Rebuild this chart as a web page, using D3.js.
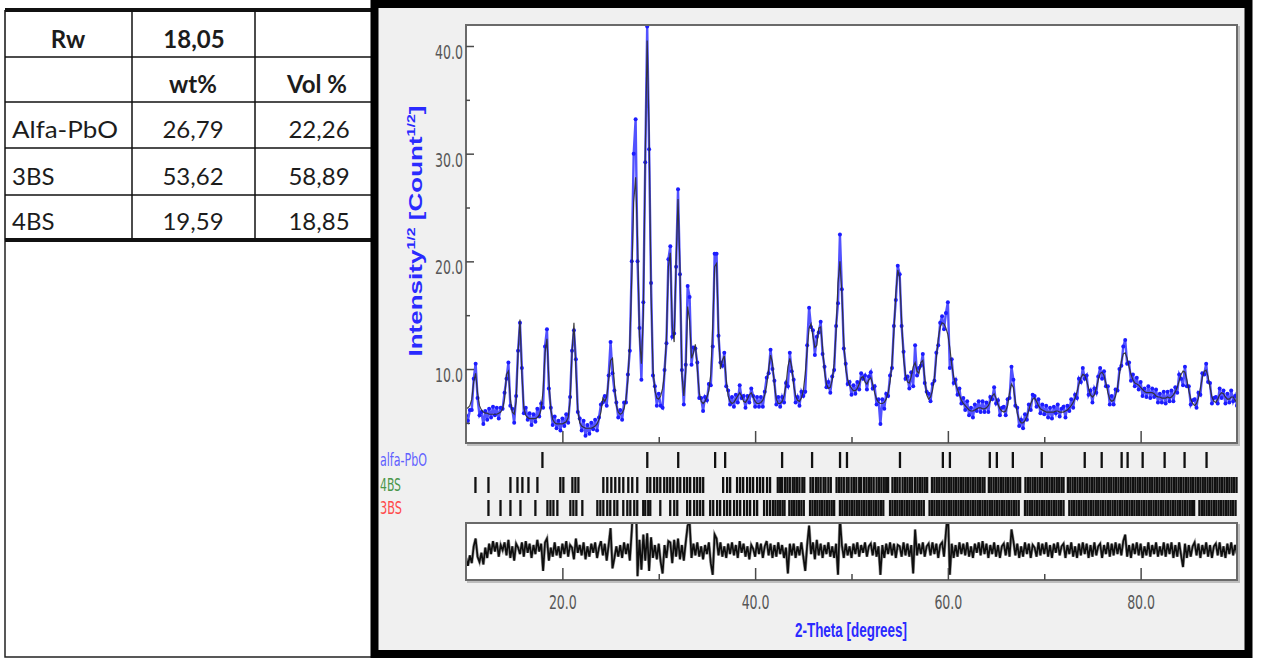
<!DOCTYPE html>
<html>
<head>
<meta charset="utf-8">
<script src="https://cdn.jsdelivr.net/npm/d3@7"></script>
<style>
  body { margin: 0; background: #fff; }
  svg { display: block; }
</style>
</head>
<body>
<div id="chart"></div>
<script>
// ---- refinement table ----
const rw = 18.05;
const phases = ['Alfa-PbO', '3BS', '4BS'];
const wtPct = [26.79, 53.62, 19.59];
const volPct = [22.26, 58.89, 18.85];

// ---- powder pattern, 2-theta grid from 10 to 90 in 0.2 deg steps ----
const thetaStart = 10;
const thetaStep = 0.2;
// calculated profile, sqrt(counts)
const calc = [
  6.3,6.4,6.6,7.2,8.8,9.6,7.8,6.6,6.2,6.0,
  5.9,5.9,5.8,5.8,5.8,5.8,5.8,5.9,6.0,6.3,
  7.2,9.5,9.8,7.2,6.0,5.8,7.0,11.5,14.6,9.5,
  6.4,5.7,5.5,5.4,5.4,5.4,5.4,5.5,5.7,6.3,
  8.0,11.5,12.8,9.0,6.2,5.3,5.0,4.9,4.9,4.9,
  4.9,5.0,5.1,5.5,7.0,11.5,14.3,10.0,6.2,5.0,
  4.7,4.6,4.5,4.5,4.5,4.5,4.6,4.7,4.9,5.3,
  6.0,7.3,7.0,7.4,9.0,10.8,11.0,8.6,6.6,6.0,
  5.8,5.9,6.3,7.2,9.0,12.5,18.5,25.5,27.8,22.0,
  13.0,10.5,15.0,30.0,40.5,32.0,17.0,10.0,8.0,7.3,
  7.2,7.5,8.2,9.5,13.0,19.5,20.8,14.0,12.5,20.0,
  25.8,19.5,9.5,7.5,9.8,15.8,14.5,11.0,11.5,12.3,
  10.0,7.8,7.0,6.8,7.0,7.4,8.0,9.5,14.0,19.5,
  19.8,13.5,10.0,10.8,11.2,9.0,7.5,7.0,6.8,6.9,
  7.2,7.5,7.8,7.5,7.0,6.9,7.2,7.6,7.8,7.4,
  7.0,6.8,6.8,6.9,7.1,7.6,8.5,10.0,11.3,10.6,
  8.5,7.2,6.8,6.8,7.0,7.5,8.5,10.2,11.0,10.2,
  8.5,7.5,7.1,7.0,7.3,8.0,9.5,11.8,13.8,14.2,
  13.0,12.0,12.2,13.8,13.9,12.0,9.8,8.6,8.2,8.3,
  9.0,10.5,13.5,18.0,20.0,17.0,12.5,10.0,9.0,8.5,
  8.2,8.0,8.0,8.2,8.6,9.2,9.3,8.8,8.6,9.0,
  9.2,8.6,7.8,7.2,6.9,6.8,6.8,6.9,7.2,7.8,
  8.8,10.5,13.5,17.0,19.2,18.5,14.5,11.0,9.5,8.8,
  8.7,9.3,10.2,10.6,9.8,9.6,10.6,10.8,9.2,7.6,
  7.2,7.4,8.0,9.2,11.0,12.8,13.9,14.3,14.2,13.8,
  13.2,12.0,10.4,9.3,8.6,8.1,7.6,7.1,6.8,6.6,
  6.4,6.2,6.1,6.1,6.2,6.3,6.4,6.4,6.3,6.3,
  6.4,6.6,7.0,7.5,7.7,7.3,6.7,6.3,6.1,6.0,
  6.1,6.6,7.8,8.6,8.3,7.0,5.9,5.3,5.0,5.0,
  5.2,5.6,6.2,6.8,7.2,7.3,7.0,6.6,6.3,6.2,
  6.1,6.0,6.0,6.0,6.0,6.0,6.1,6.1,6.0,6.0,
  6.0,6.1,6.2,6.4,6.6,6.9,7.3,7.9,8.6,9.2,
  9.5,9.4,8.9,8.2,7.6,7.4,7.6,8.2,9.0,9.6,
  9.7,9.4,8.7,7.8,7.2,7.0,7.1,7.5,8.3,9.5,
  10.7,11.4,11.5,11.0,10.2,9.5,9.0,8.7,8.6,8.5,
  8.3,8.1,7.9,7.8,7.8,7.8,7.8,7.7,7.5,7.4,
  7.4,7.3,7.3,7.3,7.4,7.3,7.4,7.6,7.9,8.3,
  8.9,9.5,9.8,9.7,9.0,8.0,7.2,6.8,6.6,6.8,
  7.3,8.2,9.2,9.8,9.9,9.3,8.3,7.4,7.0,6.9,
  7.2,7.6,7.8,7.7,7.4,7.2,7.2,7.4,7.4,7.1,
  6.9
];
// difference observed - calculated (lower panel)
const diff = [
  -0.6,-1.2,-0.4,-1.0,0.3,0.9,-0.5,-0.9,-0.2,-1.1,
  0.2,-0.6,0.5,-0.3,0.7,-0.1,0.6,-0.5,0.4,0.0,
  0.6,-0.4,0.8,-0.6,0.3,-0.8,0.5,0.2,-0.3,0.6,
  -0.5,0.7,-0.2,0.5,-0.6,0.4,-0.3,0.8,-0.1,0.5,
  -1.6,0.6,0.9,-0.8,0.2,-0.5,0.6,-0.4,0.3,-0.6,
  0.5,-0.3,0.7,-0.5,0.4,0.2,-0.7,0.9,-0.2,0.4,
  -0.4,0.6,-0.7,0.3,-0.5,0.5,-0.2,0.6,-0.6,0.2,
  0.7,-0.4,0.5,-0.8,0.4,1.7,-1.4,-0.6,0.3,-0.5,
  0.4,-0.6,0.6,-0.3,0.5,-0.8,1.5,4.5,5.4,-2.0,
  0.8,-1.5,1.2,-0.8,1.3,-1.6,1.0,-0.6,0.4,-0.7,
  0.5,-0.9,-1.8,0.4,-0.6,0.7,0.6,-1.0,0.8,-0.5,
  0.9,-0.7,0.4,-0.8,0.6,1.9,2.2,-0.6,0.5,-0.4,
  0.6,-0.5,0.3,-0.7,0.4,-0.3,0.6,-1.0,-1.9,1.2,
  0.9,-0.4,0.6,-0.5,0.3,-0.6,0.5,-0.3,0.6,-0.4,
  0.4,-0.6,0.7,-0.2,0.5,-0.5,0.3,-0.7,0.4,0.1,
  -0.5,0.6,-0.3,0.5,-0.6,0.3,0.7,-0.4,0.5,-0.6,
  0.4,-0.5,0.6,-0.3,0.4,-0.6,0.2,-1.8,0.5,-0.4,
  0.5,-0.6,0.3,-0.4,0.6,-0.5,-1.6,0.4,1.9,-0.3,
  0.6,-0.7,0.8,-0.4,0.5,-0.6,0.4,-0.3,0.6,-0.5,
  0.3,-0.6,0.5,-1.9,2.5,0.4,-0.6,0.5,-0.4,0.3,
  -0.6,0.5,-0.3,0.6,-0.5,0.4,-0.2,0.6,-0.5,0.3,
  0.5,-0.4,0.6,-0.5,0.3,-1.9,0.4,-0.6,0.5,-0.3,
  0.6,-0.4,0.5,-0.6,0.4,0.3,-0.5,0.6,-0.4,0.5,
  -0.5,0.4,-1.8,1.6,-0.4,0.5,-0.3,0.6,-0.5,0.3,
  0.5,-0.4,0.6,-0.3,0.5,-0.6,0.4,0.6,-0.5,1.4,
  3.0,-1.9,0.5,-0.6,0.4,-0.5,0.6,-0.3,0.5,-0.4,
  0.6,-0.5,0.3,-0.6,0.5,-0.2,0.6,-0.4,0.7,-0.3,
  0.5,-0.6,0.4,-0.3,0.6,-0.5,0.4,-0.6,0.3,0.5,
  -0.4,0.6,-0.5,1.6,0.7,-0.4,0.5,-0.6,0.3,-0.5,
  0.6,-0.3,0.5,-0.6,0.4,0.2,-0.5,0.6,-0.4,0.5,
  -0.3,0.6,-0.5,0.4,-0.6,0.5,-0.2,0.6,-0.4,0.3,
  0.5,-0.6,0.4,-0.3,0.6,-0.5,0.3,-0.6,0.5,-0.4,
  0.6,-0.3,0.5,-0.6,0.4,-0.5,0.6,-0.4,0.3,0.5,
  -0.6,0.4,-0.3,0.6,-0.5,0.5,-0.4,0.6,-0.3,0.5,
  -0.4,0.7,1.2,-0.5,0.4,-0.6,0.5,-0.3,0.6,-0.4,
  0.5,-0.6,0.3,-0.4,0.6,-0.5,0.4,-0.3,0.6,-0.5,
  0.3,-0.4,0.6,-0.5,0.5,-0.3,0.6,-0.6,0.4,-0.5,
  0.6,-0.4,-1.3,0.5,-0.6,0.4,-0.5,0.3,0.6,-0.4,
  0.5,-0.6,0.4,-0.3,0.6,-0.5,0.4,-0.6,0.3,0.5,
  -0.4,0.6,-0.5,0.3,-0.6,0.5,-0.3,0.6,-0.4,0.4,
  -0.3
];

// ---- Bragg reflection positions (2-theta) ----
const alfaPbO = [17.93, 28.81, 32.02, 35.85, 36.89, 42.80, 45.91, 48.81, 49.53, 55.03,
  59.48, 60.21, 64.35, 65.08, 66.74, 69.74, 74.20, 75.96, 78.03, 78.65, 80.21, 82.49, 84.56, 86.84];
const bs4 = [10.98, 12.33, 14.61, 15.34, 15.85, 16.48, 17.41, 19.79, 20.10, 21.04, 21.35, 21.66,
  24.25, 24.66, 25.08, 25.49, 25.91, 26.32, 26.84, 27.25, 27.77, 28.81, 29.12, 29.53, 29.84,
  30.16, 30.57, 30.88, 31.19, 31.50, 31.92, 32.23, 32.64, 32.95, 33.26, 33.68, 33.99, 34.30, 34.61,
  36.68, 37.10, 37.41, 38.13, 38.45, 38.76, 39.17, 39.48, 39.79, 40.21, 40.52, 40.83, 41.24, 41.55,
  42.35,42.6,42.8,43.1,43.35,43.6,43.9,44.1,44.35,44.6,44.9,45.1,45.75,46.0,46.3,46.55,46.8,47.1,
  47.3,47.6,47.85,48.45,48.7,48.95,49.2,49.5,49.7,50.0,50.25,50.5,50.8,51.0,51.3,51.55,51.8,52.05,
  52.3,52.6,52.85,53.1,53.35,53.6,53.8,54.25,54.5,54.75,55.0,55.3,55.55,55.8,56.05,56.3,56.6,56.85,
  57.1,57.35,57.6,57.85,58.35,58.6,58.85,59.1,59.35,59.6,59.85,60.1,60.35,60.6,60.85,61.1,61.35,
  61.6,61.85,62.1,62.35,62.6,62.85,63.1,63.35,63.6,63.8,64.25,64.5,64.75,65.0,65.25,65.5,65.75,66.0,
  66.25,66.5,66.75,67.0,67.25,67.5,68.05,68.3,68.55,68.8,69.05,69.3,69.55,69.8,70.05,70.3,70.55,
  70.8,71.05,71.3,71.55,71.8,72.0,72.45,72.7,72.95,73.2,73.45,73.7,73.95,74.2,74.45,74.7,74.95,75.2,
  75.45,75.7,75.95,76.2,76.45,76.7,76.95,77.2,77.45,77.7,77.95,78.2,78.45,78.7,78.95,79.2,79.45,
  79.7,79.95,80.2,80.45,80.7,80.95,81.2,81.45,81.7,81.95,82.2,82.45,82.7,82.95,83.2,83.45,83.7,
  83.95,84.2,84.45,84.7,84.95,85.2,85.45,85.7,85.95,86.2,86.45,86.7,86.95,87.2,87.45,87.7,87.95,
  88.2,88.45,88.7,88.95,89.2,89.45,89.7,89.95];
const bs3 = [12.33, 13.58, 14.61, 15.65, 17.20, 18.45, 18.76, 19.07, 19.48, 20.83, 21.14, 21.45,
  22.07, 23.63, 23.94, 24.25, 24.66, 24.97, 25.39, 25.70, 26.32, 26.74, 27.05, 27.46, 27.77, 28.39,
  28.60, 28.91, 29.12, 30.16, 31.19, 31.61, 31.92, 32.95, 33.26, 33.68, 33.99, 34.30, 34.61, 35.34,
  35.65, 36.06, 36.37, 36.79, 37.10, 37.41, 37.82, 38.13, 38.45, 38.86, 39.17, 39.48, 39.90, 40.21,
  40.93, 41.24, 41.55,
  41.85,42.1,42.35,42.6,42.85,43.05,43.55,43.8,44.05,44.3,44.55,44.8,45.05,45.7,45.95,46.2,46.45,
  46.7,46.95,47.2,47.45,47.7,47.95,48.2,48.8,49.05,49.3,49.55,49.8,50.05,50.3,50.55,50.8,51.05,51.3,
  51.55,51.8,52.05,52.3,52.55,52.8,53.05,53.3,54.0,54.25,54.5,54.75,55.0,55.25,55.5,55.75,56.0,
  56.25,56.5,56.75,57.0,57.25,57.5,58.1,58.35,58.6,58.85,59.1,59.35,59.6,59.85,60.1,60.35,60.6,
  60.85,61.1,61.35,61.6,61.85,62.1,62.35,62.6,62.85,63.1,63.35,63.6,63.85,64.1,64.35,64.6,64.85,
  65.1,65.35,65.6,65.85,66.1,66.35,66.6,66.85,67.1,67.35,68.0,68.25,68.5,68.75,69.0,69.25,69.5,
  69.75,70.0,70.25,70.5,70.75,71.0,71.25,71.5,71.75,72.0,72.6,72.85,73.1,73.35,73.6,73.85,74.1,
  74.35,74.6,74.85,75.1,75.35,75.6,75.85,76.1,76.35,76.6,76.85,77.1,77.35,77.6,77.85,78.1,78.35,
  78.6,78.85,79.1,79.35,79.6,79.85,80.1,80.35,80.6,80.85,81.1,81.35,81.6,81.85,82.1,82.35,82.6,
  82.85,83.1,83.35,83.6,83.85,84.1,84.35,84.6,84.85,85.1,85.35,85.55,86.1,86.35,86.6,86.85,87.1,
  87.35,87.6,87.85,88.1,88.35,88.6,88.85,89.1,89.35,89.6,89.85];

const yTicks = [10, 20, 30, 40];
const yMinor = [5, 15, 25, 35];
const xTicks = [20, 40, 60, 80];
const xMinor = [30, 50, 70];

const width = 1261, height = 659;
const svg = d3.select('#chart').append('svg')
  .attr('width', width).attr('height', height);

svg.append('rect').attr('width', width).attr('height', height).attr('fill', '#fff');

// ================= table =================
const fmt = v => v.toFixed(2).replace('.', ',');
const tbl = svg.append('g').attr('font-family', 'Lato, "Open Sans", sans-serif').attr('fill', '#1c1c1c');
const colX = [5, 132, 255, 372];
const rowY = [10, 57, 102, 148, 195, 240];

// below-table empty cell
tbl.append('path').attr('d', 'M5,240V657H372').attr('fill', 'none').attr('stroke', '#222').attr('stroke-width', 1.5);
rowY.forEach((ry, i) => {
  tbl.append('line').attr('x1', 5).attr('x2', 372).attr('y1', ry).attr('y2', ry)
    .attr('stroke', '#111').attr('stroke-width', (i === 0 || i === 5) ? 4 : 1.5);
});
colX.forEach(cx => {
  tbl.append('line').attr('x1', cx).attr('x2', cx).attr('y1', 10).attr('y2', 240)
    .attr('stroke', '#111').attr('stroke-width', 1.5);
});

const cellText = (txt, x, yb, anchor, bold, len) => {
  const t = tbl.append('text').attr('x', x).attr('y', yb).attr('text-anchor', anchor)
    .attr('font-size', 24).attr('font-weight', bold ? 700 : 400).text(txt);
  if (len) t.attr('textLength', len).attr('lengthAdjust', 'spacingAndGlyphs');
};
cellText('Rw', 68, 48, 'middle', true);
cellText(fmt(rw), 194, 48, 'middle', true);
cellText('wt%', 193, 93, 'middle', true);
cellText('Vol %', 317, 93, 'middle', true);
const rowBase = [138, 185, 230];
phases.forEach((p, i) => {
  cellText(p, 12, rowBase[i], 'start', false, p.length > 4 ? 106 : null);
  cellText(fmt(wtPct[i]), 193, rowBase[i], 'middle', false);
  cellText(fmt(volPct[i]), 319, rowBase[i], 'middle', false);
});

// ================= chart frame =================
svg.append('rect').attr('x', 374.5).attr('y', 4).attr('width', 874).attr('height', 650)
  .attr('fill', '#f0f0f0').attr('stroke', '#000').attr('stroke-width', 8);

const x = d3.scaleLinear().domain([10, 90]).range([466, 1237]);
const y = d3.scaleLinear().domain([3.13, 41.95]).range([443, 25]);
const yd = d3.scaleLinear().domain([-2.3, 2.1]).range([580, 523]);

const panel = (x0, y0, x1, y1) => {
  svg.append('rect').attr('x', x0 + 2).attr('y', y0 + 2).attr('width', x1 - x0).attr('height', y1 - y0)
    .attr('fill', 'none').attr('stroke', '#bdbdbd').attr('stroke-width', 2);
  svg.append('rect').attr('x', x0).attr('y', y0).attr('width', x1 - x0).attr('height', y1 - y0)
    .attr('fill', '#fff').attr('stroke', '#6a6a6a').attr('stroke-width', 2);
};
panel(466, 25, 1237, 443);
panel(466, 523, 1237, 580);

const defs = svg.append('defs');
defs.append('clipPath').attr('id', 'clipMain').append('rect')
  .attr('x', 467).attr('y', 26).attr('width', 769).attr('height', 416);
defs.append('clipPath').attr('id', 'clipDiff').append('rect')
  .attr('x', 467).attr('y', 524).attr('width', 769).attr('height', 55);

const pts = calc.map((c, i) => ({ t: thetaStart + i * thetaStep, c: c, d: diff[i], o: c + diff[i] }));

const gMain = svg.append('g').attr('clip-path', 'url(#clipMain)');
// observed: dense blue scatter band
gMain.append('path').datum(pts)
  .attr('d', d3.line().x(d => x(d.t)).y(d => y(d.o)))
  .attr('fill', 'none').attr('stroke', '#3434ff').attr('stroke-width', 2.4).attr('opacity', 0.85);
gMain.selectAll('circle').data(pts).enter().append('circle')
  .attr('cx', d => x(d.t)).attr('cy', d => y(d.o)).attr('r', 2).attr('fill', '#1c1cff');
// calculated
gMain.append('path').datum(pts)
  .attr('d', d3.line().x(d => x(d.t)).y(d => y(d.c)))
  .attr('fill', 'none').attr('stroke', '#2e2e2e').attr('stroke-width', 1.2).attr('opacity', 0.9);

const gDiff = svg.append('g').attr('clip-path', 'url(#clipDiff)');
gDiff.append('path').datum(pts)
  .attr('d', d3.line().x(d => x(d.t)).y(d => yd(d.d)))
  .attr('fill', 'none').attr('stroke', '#9a9a9a').attr('stroke-width', 3);
gDiff.append('path').datum(pts)
  .attr('d', d3.line().x(d => x(d.t)).y(d => yd(d.d)))
  .attr('fill', 'none').attr('stroke', '#0e0e0e').attr('stroke-width', 1.7);

// ================= axes =================
const tickFont = '"Liberation Sans Narrow", "Arial Narrow", "DejaVu Sans Condensed", sans-serif';
const styleAxis = (g, len) => {
  g.select('.domain').remove();
  g.selectAll('line').attr('stroke', '#4a4a4a').attr('stroke-width', 1.5);
  g.selectAll('text').attr('fill', '#575757').attr('font-family', tickFont).attr('font-size', 20)
    .attr('textLength', len).attr('lengthAdjust', 'spacingAndGlyphs');
};

svg.append('g').attr('transform', 'translate(466,0)')
  .call(d3.axisLeft(y).tickValues(yTicks).tickSize(-8).tickPadding(3).tickFormat(d3.format('.1f')))
  .call(g => styleAxis(g, 28))
  .call(g => g.selectAll('text').attr('dy', '0.62em'));
svg.append('g').attr('transform', 'translate(466,0)')
  .call(d3.axisLeft(y).tickValues(yMinor).tickSize(-4).tickFormat(''))
  .call(g => styleAxis(g, 0));

[443, 580].forEach((by, i) => {
  svg.append('g').attr('transform', `translate(0,${by})`)
    .call(d3.axisBottom(x).tickValues(xTicks).tickSize(-12).tickPadding(15)
      .tickFormat(i === 1 ? d3.format('.1f') : ''))
    .call(g => styleAxis(g, 28));
  svg.append('g').attr('transform', `translate(0,${by})`)
    .call(d3.axisBottom(x).tickValues(xMinor).tickSize(-6).tickFormat(''))
    .call(g => styleAxis(g, 0));
});

// ================= Bragg ticks =================
const phaseRows = [
  { name: 'alfa-PbO', pos: alfaPbO, color: '#6060ff', y0: 452, y1: 468, base: 466, len: 47 },
  { name: '4BS', pos: bs4, color: '#4a964a', y0: 477, y1: 493, base: 491, len: 21 },
  { name: '3BS', pos: bs3, color: '#ff4a4a', y0: 500, y1: 516, base: 514, len: 22 }
];
phaseRows.forEach(r => {
  svg.append('g').selectAll('line').data(r.pos).enter().append('line')
    .attr('x1', d => x(d)).attr('x2', d => x(d)).attr('y1', r.y0).attr('y2', r.y1)
    .attr('stroke', '#111').attr('stroke-width', 2.3);
  svg.append('text').attr('x', 380).attr('y', r.base).attr('fill', r.color)
    .attr('font-family', tickFont).attr('font-size', 17)
    .attr('textLength', r.len).attr('lengthAdjust', 'spacingAndGlyphs').text(r.name);
});

// ================= axis titles =================
svg.append('text').attr('x', 851).attr('y', 637).attr('text-anchor', 'middle')
  .attr('fill', '#2a2aff').attr('font-family', 'Liberation Sans, Arial, sans-serif')
  .attr('font-weight', 700).attr('font-size', 21)
  .attr('textLength', 112).attr('lengthAdjust', 'spacingAndGlyphs')
  .text('2-Theta [degrees]');

const yl = svg.append('text').attr('transform', 'translate(422,231) rotate(-90) scale(1,0.72)')
  .attr('text-anchor', 'middle').attr('fill', '#2a2aff')
  .attr('font-family', 'Liberation Sans, Arial, sans-serif').attr('font-weight', 700).attr('font-size', 26);
yl.append('tspan').text('Intensity');
yl.append('tspan').attr('dy', -10).attr('font-size', 16).text('1/2');
yl.append('tspan').attr('dy', 10).text(' [Count');
yl.append('tspan').attr('dy', -10).attr('font-size', 16).text('1/2');
yl.append('tspan').attr('dy', 10).text(']');
</script>
</body>
</html>
